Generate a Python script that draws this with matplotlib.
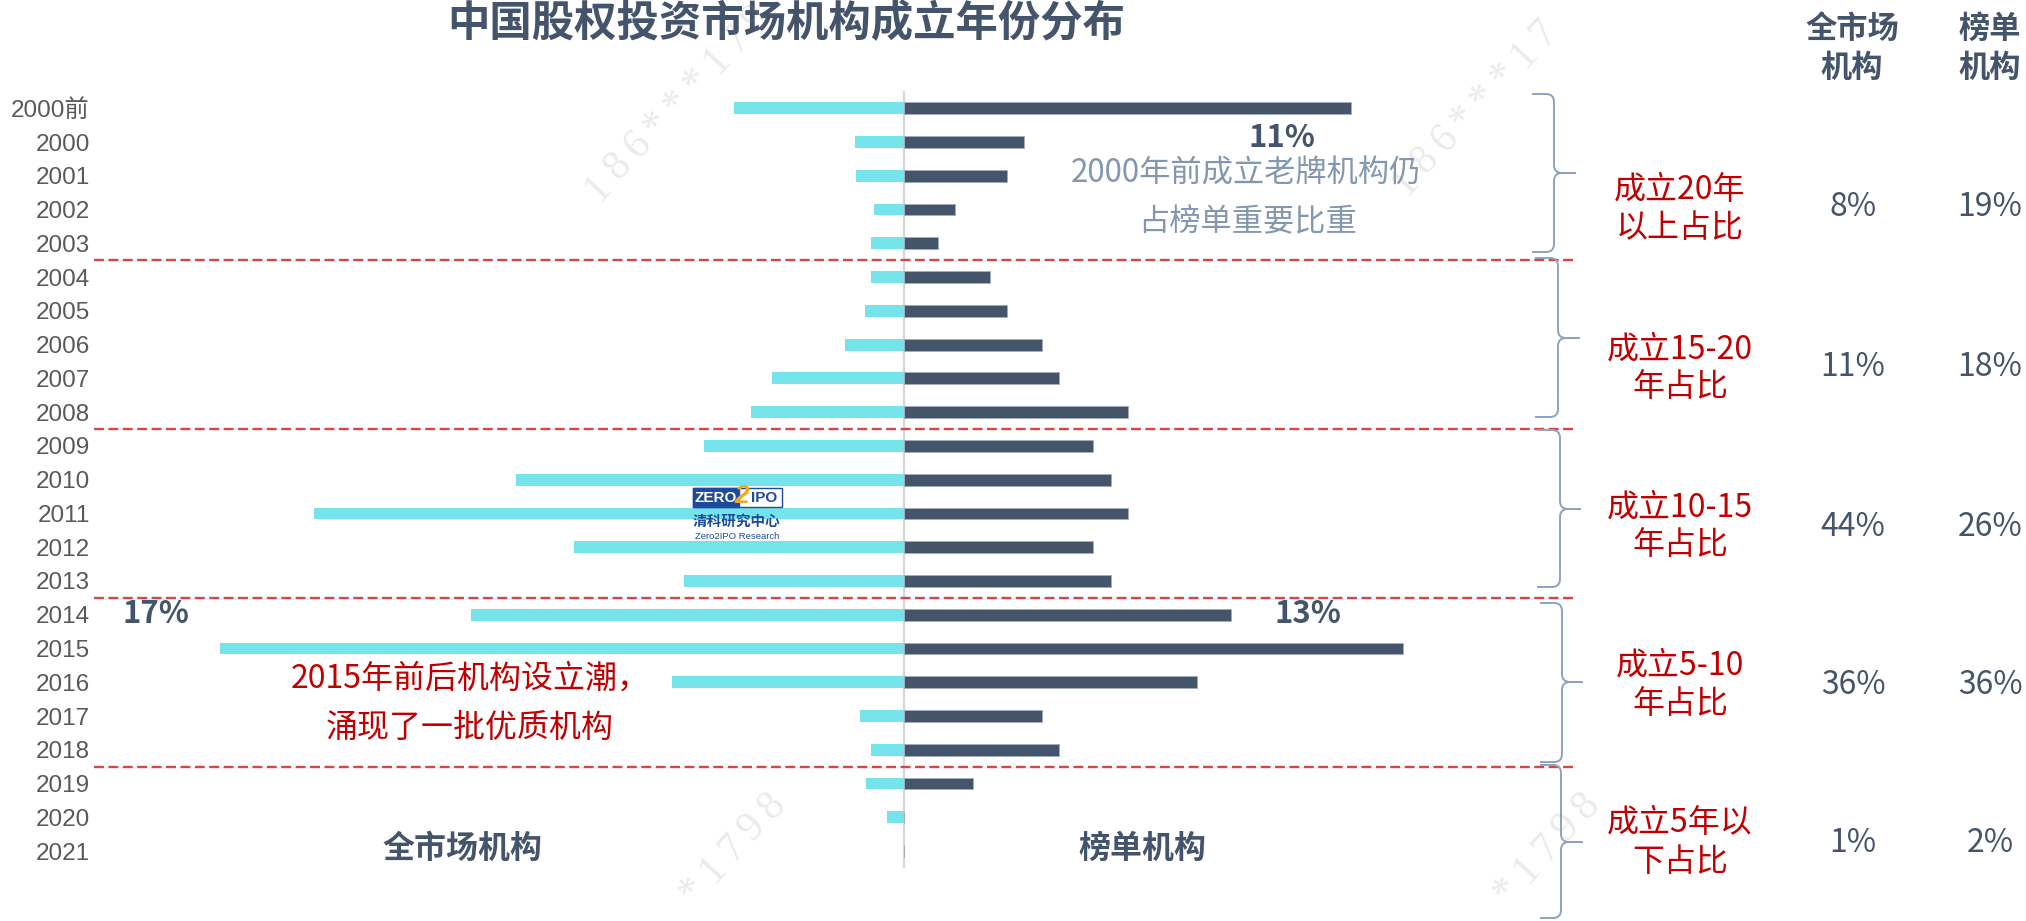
import matplotlib
matplotlib.use('Agg')
import matplotlib.pyplot as plt
from matplotlib.path import Path
from matplotlib.patches import PathPatch, Rectangle
import numpy as np

plt.rcParams['font.family'] = ['Noto Sans CJK SC', 'DejaVu Sans']

# ---------------- data ----------------
years = ['2000前', '2000', '2001', '2002', '2003', '2004', '2005', '2006', '2007',
         '2008', '2009', '2010', '2011', '2012', '2013', '2014', '2015', '2016',
         '2017', '2018', '2019', '2020', '2021']
# 全市场机构 share (%) by founding year
market_share = [4.3, 1.23, 1.21, 0.75, 0.83, 0.83, 0.99, 1.5, 3.34, 3.86, 5.05, 9.8,
                14.9, 8.33, 5.56, 10.93, 17.27, 5.85, 1.11, 0.83, 0.96, 0.43, 0.0]
# 榜单机构 share (%) by founding year
list_share = [11.3, 3.04, 2.61, 1.30, 0.87, 2.17, 2.61, 3.48, 3.91, 5.65, 4.78, 5.22,
              5.65, 4.78, 5.22, 8.26, 12.61, 7.39, 3.48, 3.91, 1.74, 0.0, 0.0]
group_sizes = [5, 5, 5, 5, 3]
group_labels = [['成立20年', '以上占比'], ['成立15-20', '年占比'], ['成立10-15', '年占比'],
                ['成立5-10', '年占比'], ['成立5年以', '下占比']]
group_market = ['8%', '11%', '44%', '36%', '1%']
group_list = ['19%', '18%', '26%', '36%', '2%']

# ---------------- style ----------------
W, H = 2026, 921
DARK = '#44546A'
CYAN = '#74E3EA'
RED = '#C00000'
SLATE = '#8497B0'

fig = plt.figure(figsize=(W / 100, H / 100), dpi=100)
fig.patch.set_facecolor('white')

# main axes (pixel layout)
ax_l, ax_r, ax_t, ax_b = 94, 1576, 91.4, 868
ax = fig.add_axes([ax_l / W, 1 - ax_b / H, (ax_r - ax_l) / W, (ax_b - ax_t) / H])
ax.patch.set_visible(False)
px_per_pct = 39.6
cx = 904
ax.set_xlim((ax_l - cx) / px_per_pct, (ax_r - cx) / px_per_pct)
ax.set_ylim(len(years) - 0.5, -0.5)

y = np.arange(len(years))
ax.barh(y, [-v for v in market_share], height=0.35, color=CYAN, zorder=2)
ax.barh(y, list_share, height=0.35, color=DARK, edgecolor='#a3adbb', linewidth=0.7, zorder=2)
ax.axvline(0, color='#d6d6d6', lw=1.6, zorder=1)

bounds = np.cumsum(group_sizes)[:-1] - 0.5
for b in bounds:
    ax.axhline(b, color='#D94444', lw=1.7, dashes=(4.2, 1.9), zorder=1)

for s in ax.spines.values():
    s.set_visible(False)
ax.set_xticks([])
ax.set_yticks(y)
ax.set_yticklabels(years, family=['Liberation Sans', 'Noto Sans CJK SC'], fontsize=17.5,
                   color='#595959')
ax.tick_params(axis='y', length=0, pad=3)

# overlay axes in pixel coordinates
ov = fig.add_axes([0, 0, 1, 1], zorder=5)
ov.set_xlim(0, W)
ov.set_ylim(H, 0)
ov.axis('off')
ov.patch.set_visible(False)


def txt(x, yy, s, **kw):
    ov.text(x, yy, s, ha='center', va='center', **kw)


# title
txt(786, 24, '中国股权投资市场机构成立年份分布', fontsize=30.5, fontweight='bold', color=DARK)

# column headers
for x, lines in [(1852, ['全市场', '机构']), (1990, ['榜单', '机构'])]:
    for yy, s in zip([29, 67.5], lines):
        txt(x, yy, s, fontsize=22.5, fontweight='bold', color=DARK)

# group labels & values
label_y = [(190, 228), (349.5, 386.5), (507.5, 545), (665.5, 703.5), (822.5, 861.5)]
value_y = [207, 367, 527, 685, 843]
for lines, ly, vy, m, l in zip(group_labels, label_y, value_y, group_market, group_list):
    for yy, s in zip(ly, lines):
        txt(1680, yy, s, fontsize=23, color=RED)
    txt(1853, vy, m, fontsize=23, color=DARK)
    txt(1990, vy, l, fontsize=23, color=DARK)

# braces
braces = [(1532, 1554, 1576, 94, 173, 252),
          (1535, 1558, 1580, 258, 338, 417),
          (1537, 1560, 1581, 430, 509, 587),
          (1540, 1562, 1583, 603, 682, 762),
          (1540, 1561, 1583, 765, 842, 918)]
for x0, xv, xt, yt, ym, yb in braces:
    r = 8
    verts = [(x0, yt), (xv - r, yt), (xv, yt), (xv, yt + r),
             (xv, ym - r), (xv, ym), (xv + r, ym), (xt, ym),
             (xv + r, ym), (xv, ym), (xv, ym + r),
             (xv, yb - r), (xv, yb), (xv - r, yb), (x0, yb)]
    codes = [Path.MOVETO, Path.LINETO, Path.CURVE3, Path.CURVE3,
             Path.LINETO, Path.CURVE3, Path.CURVE3, Path.LINETO,
             Path.LINETO, Path.CURVE3, Path.CURVE3,
             Path.LINETO, Path.CURVE3, Path.CURVE3, Path.LINETO]
    ov.add_patch(PathPatch(Path(verts, codes), fill=False, edgecolor='#8EA2BF', lw=1.4,
                           clip_on=False))

# annotations
txt(1282, 138, '11%', fontsize=22.5, fontweight='bold', color=DARK)
txt(156, 614, '17%', fontsize=22.5, fontweight='bold', color=DARK)
txt(1308, 614, '13%', fontsize=22.5, fontweight='bold', color=DARK)
txt(1246, 174, '2000年前成立老牌机构仍', fontsize=22.5, color=SLATE)
txt(1248, 222, '占榜单重要比重', fontsize=22.5, color=SLATE)
txt(470, 679, '2015年前后机构设立潮，', fontsize=23, color=RED)
txt(470, 728, '涌现了一批优质机构', fontsize=23, color=RED)
txt(462, 849, '全市场机构', fontsize=23, fontweight='bold', color=DARK)
txt(1142, 849, '榜单机构', fontsize=23, fontweight='bold', color=DARK)

# logo
LB = '#1F4A9C'
ov.add_patch(Rectangle((693, 488), 89, 19, facecolor='white', edgecolor=LB, lw=1))
ov.add_patch(Rectangle((693, 488), 46, 19, facecolor=LB, edgecolor=LB, lw=1))
txt(716, 498, 'ZERO', fontsize=11, fontweight='bold', color='white', family='Liberation Sans')
txt(764, 498, 'IPO', fontsize=11, fontweight='bold', color=LB, family='Liberation Sans')
txt(742, 496, '2', fontsize=19, fontweight='bold', color='#F2A81D', family='Liberation Sans',
    style='italic')
txt(737, 521, '清科研究中心', fontsize=10.5, fontweight='bold', color=LB)
txt(737, 536, 'Zero2IPO Research', fontsize=6.8, color=LB, family='Liberation Sans')

# watermarks (characters falling outside the canvas are skipped)
wm = '186***1798'
ang = np.deg2rad(47)
for sx, sy in [(598, 188), (1405, 182), (594, 997), (1408, 997)]:
    for i, ch in enumerate(wm):
        px = sx + i * 29 * np.cos(ang)
        py = sy - i * 29 * np.sin(ang)
        if not (18 <= py <= H - 18):
            continue
        ov.text(px, py, ch, rotation=47, ha='center', va='center', fontsize=30,
                family='Liberation Serif', color='#888888', alpha=0.17)

fig.savefig('out.png', dpi=100)
